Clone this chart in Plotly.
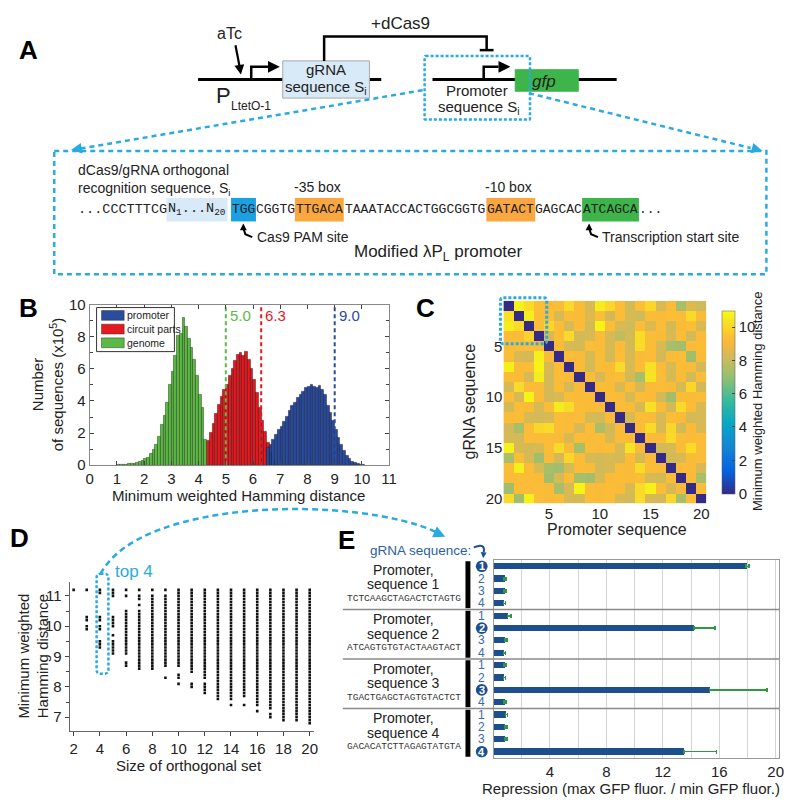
import plotly.graph_objects as go

W, H = 800, 806
def fx(x): return x / W
def fy(y): return 1 - y / H

SANS = "Liberation Sans, Arial, sans-serif"
MONO = "Liberation Mono, monospace"
CYAN = "#29abe2"

# ---------------- Panel B data (histograms, bin width 0.1) ----------------
bin_width = 0.1
genome_start = 1.0
genome_counts = [0.02, 0.03, 0.04, 0.05, 0.07, 0.09, 0.12, 0.15, 0.2, 0.28, 0.38, 0.5, 0.7, 0.95,
                 1.3, 1.8, 2.5, 3.1, 3.9, 5.0, 5.8, 6.8, 8.1, 8.2, 9.2, 8.6, 7.9, 7.3, 6.6, 5.6,
                 4.4, 3.6, 1.6]
circuit_start = 4.3
circuit_counts = [1.5, 2.0, 2.6, 3.2, 3.8, 4.3, 4.7, 5.0, 5.6, 6.0, 6.5, 6.9, 7.0, 6.8, 7.1, 6.6,
                  6.0, 5.3, 4.5, 3.6, 2.8, 2.1, 1.4, 0.8, 0.3]
promoter_start = 6.5
promoter_counts = [1.1, 1.3, 1.6, 1.9, 2.2, 2.4, 2.7, 3.0, 3.4, 3.7, 3.9, 4.2, 4.4, 4.6, 4.8, 4.9,
                   5.0, 4.9, 4.8, 4.95, 4.7, 4.4, 3.7, 3.3, 2.8, 2.2, 1.7, 1.3, 0.9, 0.6, 0.4,
                   0.25, 0.15, 0.08, 0.04, 0.02]
series_names = ["promoter", "circuit parts", "genome"]
cutoffs = [5.0, 6.3, 9.0]
cutoff_labels = ["5.0", "6.3", "9.0"]
B_GREEN, B_RED, B_BLUE = "#5cb946", "#e5191f", "#2b4c9c"
cutoff_colors = [B_GREEN, B_RED, B_BLUE]

# ---------------- Panel C data (20x20 min weighted Hamming distance) ----------------
hamming = [
    [0, 10.8, 10.2, 9.4, 9.2, 9.3, 10.1, 9.2, 8.4, 10.6, 10.0, 9.3, 8.3, 9.4, 10.0, 8.4, 9.2, 7.4, 8.5, 8.2],
    [10.3, 0, 10.7, 9.3, 9.4, 8.4, 9.3, 9.2, 8.5, 9.4, 8.3, 9.3, 8.4, 8.2, 9.3, 9.2, 9.4, 9.3, 10.1, 9.2],
    [10.6, 10.2, 0, 9.4, 10.0, 9.3, 8.4, 9.2, 8.3, 10.8, 9.3, 8.4, 8.2, 9.3, 8.5, 9.3, 8.3, 9.2, 9.4, 8.4],
    [9.3, 9.2, 9.9, 0, 8.4, 9.3, 10.1, 8.3, 8.4, 9.2, 8.4, 7.9, 8.3, 10.2, 9.3, 9.2, 8.4, 9.4, 8.3, 9.2],
    [9.2, 9.3, 9.4, 9.3, 0, 9.2, 8.4, 8.3, 9.3, 9.2, 8.4, 9.3, 8.3, 10.2, 9.3, 8.4, 7.4, 7.3, 9.2, 9.3],
    [9.3, 8.4, 8.3, 10.7, 9.2, 0, 9.3, 9.2, 8.4, 9.3, 8.3, 9.4, 8.4, 9.2, 9.3, 8.3, 9.2, 9.3, 7.3, 9.2],
    [10.7, 9.2, 9.3, 10.8, 8.4, 9.3, 0, 9.2, 8.3, 9.3, 9.2, 10.1, 8.4, 9.3, 10.3, 9.2, 8.4, 9.3, 9.2, 8.3],
    [9.3, 9.2, 8.4, 10.6, 8.3, 9.3, 9.2, 0, 9.3, 8.4, 9.2, 9.3, 8.3, 7.4, 10.4, 9.3, 8.4, 9.2, 8.3, 9.3],
    [8.4, 10.1, 9.3, 9.2, 8.3, 9.3, 8.4, 9.2, 0, 9.3, 9.2, 8.4, 9.3, 8.3, 9.2, 9.3, 9.2, 8.4, 10.0, 8.3],
    [9.3, 8.4, 10.8, 9.2, 8.3, 8.4, 9.3, 9.2, 9.3, 0, 9.3, 9.2, 8.4, 9.3, 9.2, 8.3, 7.3, 9.3, 9.2, 9.3],
    [8.3, 9.3, 9.2, 8.4, 9.3, 10.6, 10.2, 9.3, 9.2, 9.3, 0, 9.3, 9.2, 8.4, 10.3, 9.2, 8.3, 10.1, 9.3, 8.4],
    [9.2, 9.3, 8.4, 8.3, 8.4, 9.3, 9.2, 9.3, 8.4, 8.3, 9.2, 0, 8.4, 9.3, 9.2, 8.4, 9.3, 9.2, 8.3, 8.4],
    [8.3, 7.4, 9.3, 10.0, 10.2, 9.3, 9.2, 8.4, 9.3, 7.5, 8.3, 9.2, 0, 9.3, 10.1, 8.4, 10.0, 8.3, 9.2, 8.4],
    [8.4, 8.3, 9.3, 9.2, 9.3, 9.2, 8.4, 9.3, 9.2, 9.3, 8.4, 9.2, 9.3, 0, 9.3, 9.2, 10.1, 9.3, 9.2, 9.3],
    [10.7, 8.4, 8.3, 8.4, 9.3, 10.1, 9.2, 7.4, 9.3, 9.2, 9.3, 8.4, 10.4, 9.2, 0, 8.3, 8.4, 9.3, 10.2, 9.3],
    [7.4, 9.3, 8.4, 7.3, 9.2, 8.3, 10.0, 9.3, 8.4, 8.3, 8.4, 8.3, 9.3, 8.4, 9.2, 0, 8.3, 8.4, 9.2, 9.3],
    [9.3, 10.7, 9.2, 8.4, 7.4, 7.3, 8.4, 9.3, 9.2, 8.3, 8.4, 9.3, 9.2, 10.2, 9.3, 9.2, 0, 9.3, 9.2, 8.4],
    [9.2, 9.3, 9.3, 9.2, 7.3, 8.4, 9.3, 7.4, 7.3, 8.4, 9.2, 9.3, 9.2, 9.3, 8.4, 8.3, 9.3, 0, 9.2, 7.4],
    [7.3, 9.3, 9.2, 9.3, 9.2, 7.4, 8.4, 10.8, 9.3, 9.2, 9.3, 9.2, 8.4, 10.1, 10.7, 9.3, 8.4, 9.2, 0, 9.3],
    [10.1, 7.3, 10.7, 9.3, 9.2, 9.3, 8.4, 8.3, 9.3, 9.2, 9.3, 8.4, 8.3, 10.2, 8.4, 8.3, 10.0, 7.4, 9.3, 0],
]
seq_index = list(range(1, 21))
parula = [[0.0, "#352a87"], [0.127, "#0363e1"], [0.254, "#1485d4"], [0.381, "#06a7c6"],
          [0.508, "#38b99e"], [0.635, "#92bf73"], [0.70, "#b7bd64"], [0.762, "#d7ba55"],
          [0.82, "#f8b83c"], [0.86, "#fcbf35"], [0.90, "#fbd22c"], [0.95, "#f5e523"],
          [1.0, "#f9fb0e"]]

# ---------------- Panel D data (orthogonal set size vs min distance) ----------------
set_sizes = list(range(2, 21))
set_distances = [
    [11.2],
    [11.2, 10.3, 10.2, 10.0, 9.9],
    [11.2, 11.1, 10.3, 10.2, 10.0, 9.9, 9.5, 9.4, 9.3],
    [11.2, 11.1, 11.0, 10.3, 10.2, 10.1, 10.0, 9.7, 9.5, 9.4, 9.3, 9.2, 9.1],
    [11.2, 11.0, 10.5, 10.4, 10.3, 10.2, 10.1, 10.0, 9.9, 9.8, 9.7, 9.6, 9.5, 9.4, 9.3, 9.2, 9.1, 8.8, 8.7],
    [11.2, 11.0, 10.9, 10.7, 10.5, 10.4, 10.3, 10.2, 10.1, 10.0, 9.9, 9.8, 9.7, 9.6, 9.5, 9.4, 9.3, 9.2,
     9.1, 9.0, 8.9, 8.8, 8.7, 8.6],
    [11.2, 11.0, 10.9, 10.8, 10.7, 10.6, 10.5, 10.4, 10.3, 10.2, 10.1, 10.0, 9.9, 9.8, 9.7, 9.6, 9.5, 9.4,
     9.3, 9.2, 9.1, 9.0, 8.9, 8.8, 8.7, 8.6],
    [11.2, 11.0, 10.9, 10.8, 10.7, 10.6, 10.5, 10.4, 10.3, 10.2, 10.1, 10.0, 9.9, 9.8, 9.7, 9.6, 9.5, 9.4,
     9.3, 9.2, 9.1, 9.0, 8.9, 8.8, 8.7, 8.3],
    [11.2, 11.1, 11.0, 10.9, 10.8, 10.7, 10.6, 10.5, 10.4, 10.3, 10.2, 10.1, 10.0, 9.9, 9.8, 9.7, 9.6, 9.5,
     9.4, 9.3, 9.2, 9.1, 9.0, 8.9, 8.8, 8.7, 8.4, 8.3, 8.1],
    [11.2, 11.1, 11.0, 10.9, 10.8, 10.7, 10.6, 10.5, 10.4, 10.3, 10.2, 10.1, 10.0, 9.9, 9.8, 9.7, 9.6, 9.5,
     9.4, 9.3, 9.2, 9.1, 9.0, 8.9, 8.8, 8.7, 8.6, 8.5, 8.1, 8.0],
    [11.2, 11.1, 11.0, 10.9, 10.8, 10.7, 10.6, 10.5, 10.4, 10.3, 10.2, 10.1, 10.0, 9.9, 9.8, 9.7, 9.6, 9.5,
     9.4, 9.3, 9.2, 9.1, 9.0, 8.9, 8.8, 8.7, 8.6, 8.5, 8.4, 8.3, 8.1, 8.0, 7.9, 7.8],
    [11.2, 11.1, 11.0, 10.9, 10.8, 10.7, 10.6, 10.5, 10.4, 10.3, 10.2, 10.1, 10.0, 9.9, 9.8, 9.7, 9.6, 9.5,
     9.4, 9.3, 9.2, 9.1, 9.0, 8.9, 8.8, 8.7, 8.6, 8.5, 8.4, 8.3, 8.2, 8.1, 8.0, 7.9, 7.8, 7.7, 7.6],
    [11.2, 11.1, 11.0, 10.9, 10.8, 10.7, 10.6, 10.5, 10.4, 10.3, 10.2, 10.1, 10.0, 9.9, 9.8, 9.7, 9.6, 9.5,
     9.4, 9.3, 9.2, 9.1, 9.0, 8.9, 8.8, 8.7, 8.6, 8.5, 8.4, 8.3, 8.2, 8.1, 8.0, 7.9, 7.8, 7.7, 7.6, 7.4],
    [11.2, 11.1, 11.0, 10.9, 10.8, 10.7, 10.6, 10.5, 10.4, 10.3, 10.2, 10.1, 10.0, 9.9, 9.8, 9.7, 9.6, 9.5,
     9.4, 9.3, 9.2, 9.1, 9.0, 8.9, 8.8, 8.7, 8.6, 8.5, 8.4, 8.3, 8.2, 8.1, 8.0, 7.9, 7.8, 7.7, 7.4],
    [11.2, 11.1, 11.0, 10.9, 10.8, 10.7, 10.6, 10.5, 10.4, 10.3, 10.2, 10.1, 10.0, 9.9, 9.8, 9.7, 9.6, 9.5,
     9.4, 9.3, 9.2, 9.1, 9.0, 8.9, 8.8, 8.7, 8.6, 8.5, 8.4, 8.3, 8.2, 8.1, 8.0, 7.9, 7.8, 7.7, 7.6, 7.5,
     7.4, 7.2],
    [11.2, 11.1, 11.0, 10.9, 10.8, 10.7, 10.6, 10.5, 10.4, 10.3, 10.2, 10.1, 10.0, 9.9, 9.8, 9.7, 9.6, 9.5,
     9.4, 9.3, 9.2, 9.1, 9.0, 8.9, 8.8, 8.7, 8.6, 8.5, 8.4, 8.3, 8.2, 8.1, 8.0, 7.9, 7.8, 7.7, 7.6, 7.5,
     7.4, 7.3, 7.1, 7.0],
    [11.2, 11.1, 11.0, 10.9, 10.8, 10.7, 10.6, 10.5, 10.4, 10.3, 10.2, 10.1, 10.0, 9.9, 9.8, 9.7, 9.6, 9.5,
     9.4, 9.3, 9.2, 9.1, 9.0, 8.9, 8.8, 8.7, 8.6, 8.5, 8.4, 8.3, 8.2, 8.1, 8.0, 7.9, 7.8, 7.7, 7.6, 7.5,
     7.4, 7.3, 7.2, 7.1, 7.0, 6.9],
    [11.2, 11.1, 11.0, 10.9, 10.8, 10.7, 10.6, 10.5, 10.4, 10.3, 10.2, 10.1, 10.0, 9.9, 9.8, 9.7, 9.6, 9.5,
     9.4, 9.3, 9.2, 9.1, 9.0, 8.9, 8.8, 8.7, 8.6, 8.5, 8.4, 8.3, 8.2, 8.1, 8.0, 7.9, 7.8, 7.7, 7.6, 7.5,
     7.4, 7.3, 7.2, 7.1, 7.0, 6.9],
    [11.2, 11.1, 11.0, 10.9, 10.8, 10.7, 10.6, 10.5, 10.4, 10.3, 10.2, 10.1, 10.0, 9.9, 9.8, 9.7, 9.6, 9.5,
     9.4, 9.3, 9.2, 9.1, 9.0, 8.9, 8.8, 8.7, 8.6, 8.5, 8.4, 8.3, 8.2, 8.1, 8.0, 7.9, 7.8, 7.7, 7.6, 7.5,
     7.4, 7.3, 7.2, 7.1, 7.0, 6.9, 6.8],
]

# ---------------- Panel E data (repression) ----------------
rows_E = list(range(1, 17))
repression = [17.9, 0.75, 0.75, 0.7,
              1.0, 14.2, 0.8, 0.7,
              0.75, 0.7, 15.3, 0.75,
              0.85, 0.8, 0.8, 13.5]
repression_err = [0.2, 0.15, 0.15, 0.15,
                  0.25, 1.5, 0.15, 0.15,
                  0.15, 0.15, 4.1, 0.15,
                  0.15, 0.15, 0.15, 2.3]
grna_labels = ["1", "2", "3", "4"]
promoter_names = ["sequence 1", "sequence 2", "sequence 3", "sequence 4"]
promoter_seqs = ["TCTCAAGCTAGACTCTAGTG", "ATCAGTGTGTACTAAGTACT",
                 "TGACTGAGCTAGTGTACTCT", "GACACATCTTAGAGTATGTA"]
E_BLUE = "#1d4f8e"
E_GREEN = "#2e9a3e"

# ---------------- Panel A sequence ----------------
seq_tail = ["TGG", "CGGTG", "TTGACA", "TAAATACCACTGGCGGTG", "GATACT", "GAGCAC", "ATCAGCA..."]
seq_tail_fill = ["#1ba1e2", None, "#f9a73e", None, "#f9a73e", None, "#3db54a"]

fig = go.Figure()

# ---- B traces
def centers(start, n):
    return [round(start + bin_width * (i + 0.5), 3) for i in range(n)]

fig.add_trace(go.Bar(x=centers(circuit_start, len(circuit_counts)), y=circuit_counts, width=bin_width,
                     name=series_names[1], marker=dict(color=B_RED, line=dict(color="#3a1010", width=0.5)),
                     xaxis="x", yaxis="y", showlegend=False))
fig.add_trace(go.Bar(x=centers(genome_start, len(genome_counts)), y=genome_counts, width=bin_width,
                     name=series_names[2], marker=dict(color=B_GREEN, line=dict(color="#1e3a12", width=0.5)),
                     xaxis="x", yaxis="y", showlegend=False))
fig.add_trace(go.Bar(x=centers(promoter_start, len(promoter_counts)), y=promoter_counts, width=bin_width,
                     name=series_names[0], marker=dict(color=B_BLUE, line=dict(color="#101a3a", width=0.5)),
                     xaxis="x", yaxis="y", showlegend=False))
for c, col in zip(cutoffs, cutoff_colors):
    fig.add_trace(go.Scatter(x=[c, c], y=[0, 10], mode="lines", line=dict(color=col, width=2, dash="4px,3px"),
                             showlegend=False, xaxis="x", yaxis="y", hoverinfo="skip"))

# ---- C heatmap
fig.add_trace(go.Heatmap(z=hamming, x=seq_index, y=seq_index, colorscale=parula, zmin=0, zmax=11,
                         xaxis="x2", yaxis="y2", showscale=True, xgap=0, ygap=0,
                         colorbar=dict(x=fx(719), xanchor="left", thickness=13, lenmode="fraction",
                                       len=(505 - 298) / H, y=fy(401.5), yanchor="middle",
                                       tickvals=[0, 2, 4, 6, 8, 10], ticks="inside", ticklen=3,
                                       tickfont=dict(size=15, family=SANS, color="#222"),
                                       outlinewidth=0.5, outlinecolor="#555")))

# ---- D scatter
dx, dy = [], []
for s, vals in zip(set_sizes, set_distances):
    for v in vals:
        dx.append(s)
        dy.append(v)
fig.add_trace(go.Scatter(x=dx, y=dy, mode="markers", marker=dict(color="#111", size=2.6, symbol="square"),
                         xaxis="x3", yaxis="y3", showlegend=False))

# ---- E bars
fig.add_trace(go.Bar(x=repression, y=rows_E, orientation="h", width=0.5, marker=dict(color=E_BLUE, line=dict(width=0)),
                     error_x=dict(type="data", symmetric=False, array=repression_err,
                                  arrayminus=[0] * len(repression_err), color=E_GREEN, thickness=1.6, width=2),
                     xaxis="x4", yaxis="y4", showlegend=False))

tickfont = dict(size=15, family=SANS, color="#222")

fig.update_layout(
    width=W, height=H, margin=dict(l=0, r=0, t=0, b=0),
    paper_bgcolor="white", plot_bgcolor="white",
    barmode="overlay", bargap=0, showlegend=False,
    font=dict(family=SANS, color="#222"),
    xaxis=dict(domain=[fx(87), fx(391)], anchor="y", range=[0, 11], tickvals=list(range(0, 12)),
               ticks="inside", ticklen=4, showline=True, linecolor="#888", mirror="ticks",
               showgrid=False, zeroline=False, tickfont=tickfont),
    yaxis=dict(domain=[fy(466), fy(302)], anchor="x", range=[0, 10], tickvals=[0, 2, 4, 6, 8, 10],
               ticks="inside", ticklen=4, showline=True, linecolor="#888", mirror="ticks",
               minor=dict(dtick=1, ticks="inside", ticklen=3), showgrid=False, zeroline=False,
               tickfont=tickfont),
    xaxis2=dict(domain=[fx(507), fx(713)], anchor="y2", range=[0.5, 20.5], tickvals=[5, 10, 15, 20],
                ticks="", showline=False, showgrid=False, zeroline=False, tickfont=dict(size=15, family=SANS, color="#222")),
    yaxis2=dict(domain=[fy(505), fy(298)], anchor="x2", range=[20.5, 0.5], tickvals=[5, 10, 15, 20],
                ticks="", showline=False, showgrid=False, zeroline=False, tickfont=dict(size=15, family=SANS, color="#222")),
    xaxis3=dict(domain=[fx(66.7), fx(315)], anchor="y3", range=[1.7, 20.35], tickvals=list(range(2, 21, 2)),
                ticks="outside", ticklen=4, showline=True, linecolor="#666", showgrid=False, zeroline=False,
                tickfont=tickfont),
    yaxis3=dict(domain=[fy(738), fy(585)], anchor="x3", range=[6.53, 11.47], tickvals=[7, 8, 9, 10, 11],
                ticks="outside", ticklen=4, showline=True, linecolor="#666", showgrid=False, zeroline=False,
                minor=dict(dtick=0.5, ticks="outside", ticklen=3), tickfont=tickfont),
    xaxis4=dict(domain=[fx(497), fx(787)], anchor="y4", range=[0, 20.25], tickvals=[4, 8, 12, 16, 20],
                ticks="", showline=True, linecolor="#999", mirror=True, showgrid=True, gridcolor="#d4d4d4",
                minor=dict(tickvals=[2, 6, 10, 14, 18], showgrid=True, gridcolor="#d4d4d4"),
                zeroline=False, tickfont=tickfont),
    yaxis4=dict(domain=[fy(765), fy(563)], anchor="x4", range=[16.5, 0.5], showticklabels=False,
                ticks="", showline=True, linecolor="#999", mirror=True, showgrid=False, zeroline=False),
)

shapes = []
ann = []

def P(pts):
    return " ".join(("M" if i == 0 else "L") + f" {fx(x):.5f},{fy(y):.5f}" for i, (x, y) in enumerate(pts))

def line(x0, y0, x1, y1, color="black", width=3, dash=None):
    d = dict(color=color, width=width)
    if dash:
        d["dash"] = dash
    shapes.append(dict(type="line", xref="paper", yref="paper", x0=fx(x0), y0=fy(y0), x1=fx(x1), y1=fy(y1), line=d))

def rect(x0, y0, x1, y1, fill, lc=None, lw=0, dash=None):
    ld = dict(width=lw, color=lc or fill)
    if dash:
        ld["dash"] = dash
    shapes.append(dict(type="rect", xref="paper", yref="paper", x0=fx(x0), y0=fy(y0), x1=fx(x1), y1=fy(y1),
                       fillcolor=fill, line=ld, layer="below" if lw == 0 else "above"))

def head(tx, ty, fromx, fromy, size=9, color="black"):
    ux, uy = tx - fromx, ty - fromy
    n = (ux * ux + uy * uy) ** 0.5
    ux, uy = ux / n, uy / n
    bx, by = tx - ux * size, ty - uy * size
    px_, py_ = -uy, ux
    pts = [(tx, ty), (bx + px_ * size * 0.5, by + py_ * size * 0.5), (bx - px_ * size * 0.5, by - py_ * size * 0.5)]
    shapes.append(dict(type="path", xref="paper", yref="paper", path=P(pts) + " Z", fillcolor=color,
                       line=dict(width=0, color=color)))

def rrect(x0, y0, x1, y1, r, color, width, dash):
    path = (f"M {fx(x0 + r)},{fy(y0)} L {fx(x1 - r)},{fy(y0)} Q {fx(x1)},{fy(y0)} {fx(x1)},{fy(y0 + r)} "
            f"L {fx(x1)},{fy(y1 - r)} Q {fx(x1)},{fy(y1)} {fx(x1 - r)},{fy(y1)} "
            f"L {fx(x0 + r)},{fy(y1)} Q {fx(x0)},{fy(y1)} {fx(x0)},{fy(y1 - r)} "
            f"L {fx(x0)},{fy(y0 + r)} Q {fx(x0)},{fy(y0)} {fx(x0 + r)},{fy(y0)} Z")
    shapes.append(dict(type="path", xref="paper", yref="paper", path=path, line=dict(color=color, width=width, dash=dash)))

def txt(x, y, s, size=14, color="#222", xanchor="center", yanchor="middle", family=SANS, angle=0):
    ann.append(dict(x=fx(x), y=fy(y), xref="paper", yref="paper", text=s, showarrow=False,
                    font=dict(size=size, color=color, family=family), xanchor=xanchor, yanchor=yanchor,
                    textangle=angle, borderpad=0))

# ---------------- Panel A ----------------
line(197, 72, 383, 72)
line(435, 72, 622, 72)
shapes.append(dict(type="path", xref="paper", yref="paper", path=P([(251, 72), (251, 59), (268, 59)]),
                   line=dict(color="black", width=2.5)))
head(280, 59, 268, 59, size=12)
shapes.append(dict(type="path", xref="paper", yref="paper", path=P([(487, 72), (487, 59), (502, 59)]),
                   line=dict(color="black", width=2.5)))
head(514, 59, 502, 59, size=12)
rect(283, 53, 371, 91, "#d8eaf7", lc="#a8a8a8", lw=1)
shapes.append(dict(type="path", xref="paper", yref="paper", path=P([(325, 53), (325, 28), (490, 28), (490, 42)]),
                   line=dict(color="black", width=2.5)))
line(483, 42, 497, 42, width=2.5)
rect(519, 62, 583, 84, "#3db54a", lc="#3db54a", lw=1)
rrect(427, 48, 534, 113, 1, CYAN, 2.5, "3px,2px")
# aTc arrow
line(235, 37, 239, 58, width=2.2)
head(240.5, 67, 238.7, 56, size=10)
txt(229, 25, "aTc", 16)
txt(403, 15, "+dCas9", 17)
txt(327, 62, "gRNA", 15)
txt(327, 80, "sequence S<sub>i</sub>", 15)
txt(480, 83, "Promoter", 15)
txt(482, 101, "sequence S<sub>i</sub>", 15)
txt(548, 74, "<i>gfp</i>", 17)
txt(223, 88, "P", 22)
txt(229, 99, "LtetO-1", 12, xanchor="left")
txt(25, 42, "<b>A</b>", 26, color="black")

# expansion lines and box
line(425, 83, 78, 142.5, color=CYAN, width=2.5, dash="5px,4px")
head(68, 144, 80, 142, size=11, color=CYAN)
line(533, 86, 758, 142, color=CYAN, width=2.5, dash="5px,4px")
head(770, 145, 757, 141.5, size=11, color=CYAN)
rect(51, 145, 774, 271, "rgba(0,0,0,0)", lc=CYAN, lw=2.5, dash="5px,4px")

txt(74, 164, "dCas9/gRNA orthogonal", 14, xanchor="left")
txt(74, 184, "recognition sequence, S<sub>i</sub>", 14, xanchor="left")
txt(318, 182, "-35 box", 14)
txt(512, 182, "-10 box", 14)
CHAR_W = 8.1  # slot width per base
rect(165, 193, 227, 217, "#d8eaf7")
txt(74, 205, "...CCCTTTCG", 13.5, xanchor="left", family=MONO)
txt(196, 205, "N<sub>1</sub>...N<sub>20</sub>", 13.5, family=MONO)
x_cur = 231
for seg, fill in zip(seq_tail, seq_tail_fill):
    n_core = len(seg.replace("...", ""))
    w = CHAR_W * n_core
    if fill:
        rect(x_cur - 0.5, 193, x_cur + w + 0.5, 217, fill)
    txt(x_cur + w / 2, 205, seg.replace("...", ""), 13, family=MONO)
    if "..." in seg:
        txt(x_cur + w, 205, "...", 13, family=MONO, xanchor="left")
    x_cur += CHAR_W * len(seg)
shapes.append(dict(type="path", xref="paper", yref="paper", path=P([(252, 233), (245, 230), (243, 224)]),
                   line=dict(color="black", width=2)))
head(243, 219, 243, 226, size=7)
txt(256, 233, "Cas9 PAM site", 14, xanchor="left")
shapes.append(dict(type="path", xref="paper", yref="paper", path=P([(603, 233), (596, 230), (594, 224)]),
                   line=dict(color="black", width=2)))
head(594, 219, 594, 226, size=7)
txt(606, 233, "Transcription start site", 14, xanchor="left")
txt(441, 249, "Modified λP<sub>L</sub> promoter", 17)

# ---------------- Panel B extras ----------------
txt(25, 305, "<b>B</b>", 26, color="black")
rect(94, 305, 173, 350, "white", lc="#333", lw=1)
leg_colors = [B_BLUE, B_RED, B_GREEN]
for i, (nm, col) in enumerate(zip(series_names, leg_colors)):
    yc = 313 + 14 * i
    shapes.append(dict(type="rect", xref="paper", yref="paper", x0=fx(99), x1=fx(122), y0=fy(yc - 5),
                       y1=fy(yc + 5), fillcolor=col, line=dict(color="#333", width=0.5)))
    txt(124, yc, nm, 10.5, xanchor="left")
for c, lab, col in zip(cutoffs, cutoff_labels, cutoff_colors):
    ann.append(dict(x=c + 0.08, y=9.35, xref="x", yref="y", text=lab, showarrow=False, xanchor="left",
                    font=dict(size=15, color=col, family=SANS)))
txt(238, 497, "Minimum weighted Hamming distance", 15)
txt(45, 384, "Number<br>of sequences (x10<sup>5</sup>)", 15, angle=-90)

# ---------------- Panel C extras ----------------
txt(428, 305, "<b>C</b>", 26, color="black")
txt(473, 401, "gRNA sequence", 16, angle=-90)
txt(622, 532, "Promoter sequence", 16)
txt(765, 401, "Minimum weighted Hamming distance", 13, angle=-90)
rrect(504, 295, 551, 342, 3, CYAN, 3, "3px,2px")

# ---------------- Panel D extras ----------------
txt(16, 540, "<b>D</b>", 26, color="black")
txt(29, 661, "Minimum weighted<br>Hamming distance", 15, angle=-90)
txt(188, 773, "Size of orthogonal set", 15)
rrect(94, 577, 106, 679, 4, CYAN, 2.5, "3px,2px")
txt(112, 575, "top 4", 17, color=CYAN, xanchor="left")
arc = (f"M {fx(98)},{fy(577)} C {fx(140)},{fy(498)} {fx(360)},{fy(498)} {fx(438)},{fy(534)}")
shapes.append(dict(type="path", xref="paper", yref="paper", path=arc, line=dict(color=CYAN, width=2.5, dash="6px,4px")))
head(448, 539, 430, 531, size=12, color=CYAN)

# ---------------- Panel E extras ----------------
txt(348, 542, "<b>E</b>", 26, color="black")
txt(371, 553, "gRNA sequence:", 13.5, color="#2c5f9e", xanchor="left")
shapes.append(dict(type="path", xref="paper", yref="paper",
                   path=f"M {fx(477)},{fy(550)} Q {fx(489)},{fy(545)} {fx(487)},{fy(555)}",
                   line=dict(color=E_BLUE, width=2)))
head(486.5, 561, 487, 554, size=6, color=E_BLUE)
for k in range(4):
    base = 4 * k
    if k > 0:
        shapes.append(dict(type="line", xref="paper", yref="y4", x0=fx(344), x1=fx(787), y0=base + 0.5,
                           y1=base + 0.5, line=dict(color="#8a8a8a", width=1.5)))
    shapes.append(dict(type="rect", xref="paper", yref="y4", x0=fx(468.5), x1=fx(473.5), y0=base + 0.6,
                       y1=base + 4.4, fillcolor="black", line=dict(width=0)))
    ann.append(dict(x=fx(406), y=base + 1.3, xref="paper", yref="y4", text="Promoter,", showarrow=False,
                    font=dict(size=14, family=SANS, color="#222"), borderpad=0))
    ann.append(dict(x=fx(406), y=base + 2.45, xref="paper", yref="y4", text=promoter_names[k], showarrow=False,
                    font=dict(size=14, family=SANS, color="#222"), borderpad=0))
    ann.append(dict(x=fx(406), y=base + 3.6, xref="paper", yref="y4", text=promoter_seqs[k], showarrow=False,
                    font=dict(size=9.5, family=MONO, color="#333"), borderpad=0))
    for j in range(4):
        row = base + j + 1
        if j == k:
            shapes.append(dict(type="circle", xref="paper", yref="y4", x0=fx(479), x1=fx(491), y0=row - 0.47,
                               y1=row + 0.47, fillcolor=E_BLUE, line=dict(width=0)))
            ann.append(dict(x=fx(485), y=row, xref="paper", yref="y4", text="<b>" + grna_labels[j] + "</b>",
                            showarrow=False, font=dict(size=11, family=SANS, color="white"), borderpad=0))
        else:
            ann.append(dict(x=fx(485), y=row, xref="paper", yref="y4", text=grna_labels[j], showarrow=False,
                            font=dict(size=12, family=SANS, color="#3a6aa8"), borderpad=0))
txt(637, 796, "Repression (max GFP fluor. / min GFP fluor.)", 15)

fig.update_layout(shapes=shapes, annotations=ann)
fig.write_html("out.html", config={"displayModeBar": False},
               post_script="document.body.style.margin='0px';document.body.style.padding='0px';"
                           "document.body.style.overflow='hidden';")
